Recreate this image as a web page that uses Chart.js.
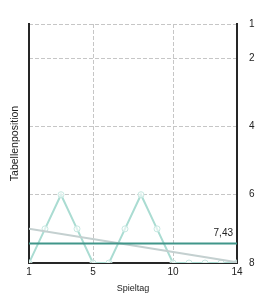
<!DOCTYPE html>
<html>
<head>
<meta charset="utf-8">
<script src="https://cdn.jsdelivr.net/npm/chart.js@4/dist/chart.umd.min.js"></script>
<style>
  html, body { margin: 0; padding: 0; background: #ffffff; }
  #wrap { width: 266px; height: 299px; }
</style>
</head>
<body>
<div id="wrap"><canvas id="c" width="266" height="299"></canvas></div>
<script>
// ---- data ----
const matchdays = [1, 2, 3, 4, 5, 6, 7, 8, 9, 10, 11, 12, 13, 14];
const positions = [8, 7, 6, 7, 8, 8, 7, 6, 7, 8, 8, 8, 8, 8];
const average = 7.43;
const trendDays = [1, 14];
const trendValues = [7.0, 7.98];
const xTickValues = [1, 5, 10, 14];
const yTickValues = [1, 2, 4, 6, 8];
const xTitle = 'Spieltag';
const yTitle = 'Tabellenposition';

const FONT = "'Liberation Sans', Arial, sans-serif";
const AXIS = '#262626';
const GRID = '#c6c6c6';

const avgLabelPlugin = {
  id: 'avgLabel',
  afterDatasetsDraw(chart) {
    const y = chart.scales.y;
    const area = chart.chartArea;
    const ctx = chart.ctx;
    ctx.save();
    ctx.font = '10px ' + FONT;
    ctx.fillStyle = '#222';
    ctx.textAlign = 'right';
    ctx.textBaseline = 'middle';
    ctx.fillText(average.toFixed(2).replace('.', ','), area.right - 4, y.getPixelForValue(average) - 10);
    ctx.restore();
  }
};

new Chart(document.getElementById('c'), {
  type: 'line',
  data: {
    datasets: [
      {
        label: 'Durchschnitt',
        data: [{x: matchdays[0], y: average}, {x: matchdays[matchdays.length - 1], y: average}],
        borderColor: '#40968a',
        borderWidth: 2,
        pointRadius: 0,
        order: 0
      },
      {
        label: 'Trend',
        data: trendDays.map((d, i) => ({x: d, y: trendValues[i]})),
        borderColor: '#c4d0d0',
        borderWidth: 2,
        pointRadius: 0,
        order: 1
      },
      {
        label: 'Position',
        data: matchdays.map((d, i) => ({x: d, y: positions[i]})),
        borderColor: '#aadcd2',
        borderWidth: 2,
        pointRadius: 3,
        pointBorderWidth: 1,
        pointBorderColor: '#c6e8e1',
        pointBackgroundColor: 'rgba(255,255,255,0.6)',
        order: 2
      }
    ]
  },
  options: {
    responsive: false,
    animation: false,
    events: [],
    layout: { padding: { top: 24, left: 0, right: 0, bottom: 0 } },
    plugins: { legend: { display: false }, tooltip: { enabled: false } },
    scales: {
      x: {
        type: 'linear',
        position: 'bottom',
        min: 1,
        max: 14,
        afterBuildTicks: (axis) => { axis.ticks = xTickValues.map(v => ({value: v})); },
        afterFit: (axis) => { axis.height = 36; },
        grid: { color: GRID, lineWidth: 1, drawTicks: false },
        border: { display: true, color: AXIS, width: 2, dash: [4, 2] },
        ticks: { color: '#222', font: { family: FONT, size: 10 }, padding: 3, maxRotation: 0, autoSkip: false },
        title: { display: true, text: xTitle, color: '#222', font: { family: FONT, size: 9 }, padding: { top: 0, bottom: 5 } }
      },
      y: {
        type: 'linear',
        position: 'right',
        reverse: true,
        min: 1,
        max: 8,
        afterBuildTicks: (axis) => { axis.ticks = yTickValues.map(v => ({value: v})); },
        afterFit: (axis) => { axis.width = 29; },
        grid: { color: GRID, lineWidth: 1, drawTicks: false },
        border: { display: true, color: AXIS, width: 2, dash: [4, 2] },
        ticks: { color: '#222', font: { family: FONT, size: 10 }, padding: 12 }
      },
      yLeft: {
        type: 'linear',
        position: 'left',
        min: 1,
        max: 8,
        afterFit: (axis) => { axis.width = 29; },
        grid: { display: false, drawTicks: false },
        border: { display: true, color: AXIS, width: 2 },
        ticks: { display: false },
        title: { display: true, text: yTitle, color: '#222', font: { family: FONT, size: 10.5 }, padding: { top: 9, bottom: 0 } }
      }
    }
  },
  plugins: [avgLabelPlugin]
});
</script>
</body>
</html>
